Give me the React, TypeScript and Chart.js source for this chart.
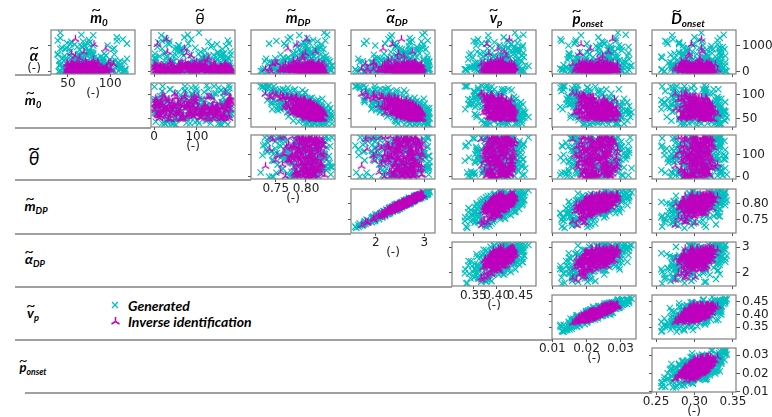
import React, { useEffect, useRef } from 'react';
import { Chart, registerables } from 'chart.js';

Chart.register(...registerables);

// ---------------- Generated samples (one entry per sample, aligned by index) ----------------
const alphaGen = [
  120, 460, 35, 780, 210, 1050, 60, 340, 15, 590,
  880, 150, 260, 410, 25, 690, 90, 1220, 330, 170,
  45, 520, 950, 230, 110, 380, 650, 20, 1400, 290,
  75, 820, 180, 560, 8, 310, 140, 720, 430, 50,
  990, 270, 30, 600, 155, 40, 1130, 360, 85, 480,
  240, 10, 700, 130, 370, 920, 55, 190, 540, 1300,
  320, 95, 860, 200, 12, 440, 620, 70, 1010, 250,
  165, 400, 28, 760, 510, 100, 280, 1180, 5, 350,
  640, 220, 1080, 38, 300, 145, 840, 18, 470, 1500,
  60, 580, 125, 390, 1250, 20, 500, 230, 680, 105,
  210, 690, 80, 330, 1100, 150, 460, 30, 860, 250,
  120, 540, 20, 380, 740, 95, 1020, 280, 55, 430,
  610, 170, 300, 12, 890, 65, 520, 240, 1160, 140,
  360, 40, 780, 220, 105, 1320, 15, 410, 670, 190,
  70, 950, 260, 500, 10, 340, 820, 130, 590, 45,
  1060, 225, 85, 450, 700, 35, 160, 920, 300, 560,
  115, 25, 640, 390, 1200, 50, 270, 760, 180, 480,
  900, 140, 330, 60, 1010, 230, 420, 8, 620, 290,
  175, 1420, 90, 530, 350, 710, 22, 440, 150, 1080,
  365, 75, 560, 205, 880, 30, 650, 245, 1150, 125,
];
const m0Gen = [
  85, 53, 102, 53, 107, 58, 58, 84, 84, 79,
  52, 99, 41, 112, 50, 77, 118, 75, 58, 55,
  87, 85, 61, 65, 95, 68, 62, 89, 80, 41,
  70, 75, 68, 68, 95, 94, 43, 67, 106, 58,
  66, 102, 118, 53, 64, 75, 76, 70, 57, 61,
  64, 78, 93, 52, 117, 43, 94, 62, 81, 41,
  66, 118, 47, 98, 54, 60, 73, 89, 80, 74,
  65, 103, 80, 78, 65, 51, 49, 108, 85, 110,
  38, 54, 74, 79, 68, 81, 64, 40, 91, 41,
  103, 89, 63, 72, 115, 53, 120, 72, 38, 112,
  80, 63, 77, 104, 49, 61, 100, 47, 103, 53,
  75, 92, 42, 72, 76, 52, 70, 94, 104, 45,
  46, 92, 59, 115, 72, 77, 44, 79, 68, 97,
  66, 75, 73, 60, 65, 108, 85, 40, 105, 88,
  90, 67, 111, 47, 39, 91, 75, 114, 65, 82,
  53, 84, 64, 79, 80, 57, 112, 48, 84, 55,
  67, 116, 71, 88, 38, 86, 88, 75, 89, 60,
  105, 44, 96, 62, 97, 46, 92, 68, 95, 41,
  81, 66, 112, 66, 70, 79, 53, 80, 53, 120,
  92, 46, 61, 110, 41, 110, 80, 40, 54, 88,
];
const thetaGen = [
  12, 147, 88, 63, 171, 35, 119, 5, 98, 154,
  77, 23, 132, 166, 49, 104, 140, 28, 177, 61,
  93, 158, 8, 126, 70, 42, 179, 111, 17, 84,
  136, 55, 101, 3, 162, 74, 31, 149, 117, 46,
  168, 90, 20, 128, 59, 143, 10, 107, 81, 175,
  39, 122, 66, 153, 1, 96, 138, 52, 173, 26,
  114, 72, 160, 14, 85, 131, 44, 178, 57, 99,
  7, 145, 36, 109, 164, 68, 125, 19, 92, 156,
  51, 176, 80, 134, 24, 116, 62, 150, 3, 105,
  141, 30, 169, 47, 87, 11, 123, 75, 158, 38,
  66, 2, 158, 101, 33, 180, 89, 124, 48, 143,
  9, 112, 76, 165, 27, 137, 58, 95, 174, 41,
  121, 15, 84, 151, 62, 108, 4, 169, 36, 129,
  93, 55, 178, 20, 141, 71, 116, 46, 162, 83,
  6, 133, 99, 29, 155, 64, 118, 176, 13, 87,
  147, 39, 104, 170, 24, 78, 127, 52, 161, 110,
  17, 97, 139, 60, 172, 32, 81, 149, 0, 120,
  56, 166, 91, 11, 135, 43, 106, 179, 69, 25,
  152, 79, 37, 114, 2, 163, 49, 131, 94, 175,
  28, 102, 145, 73, 19, 157, 86, 42, 127, 167,
];
const mDPGen = [
  0.792, 0.815, 0.768, 0.803, 0.741, 0.826, 0.787, 0.809, 0.755, 0.798,
  0.821, 0.776, 0.834, 0.762, 0.806, 0.793, 0.729, 0.812, 0.784, 0.839,
  0.801, 0.749, 0.818, 0.795, 0.772, 0.828, 0.808, 0.736, 0.789, 0.816,
  0.758, 0.804, 0.831, 0.781, 0.797, 0.744, 0.823, 0.811, 0.766, 0.842,
  0.799, 0.785, 0.725, 0.813, 0.778, 0.827, 0.805, 0.752, 0.819, 0.790,
  0.836, 0.771, 0.807, 0.796, 0.739, 0.824, 0.783, 0.814, 0.763, 0.802,
  0.817, 0.747, 0.829, 0.794, 0.810, 0.775, 0.833, 0.760, 0.800, 0.822,
  0.786, 0.732, 0.812, 0.797, 0.769, 0.838, 0.804, 0.751, 0.820, 0.780,
  0.809, 0.843, 0.764, 0.791, 0.826, 0.743, 0.815, 0.798, 0.774, 0.830,
  0.757, 0.806, 0.788, 0.840, 0.770, 0.812, 0.734, 0.801, 0.825, 0.782,
  0.805, 0.778, 0.822, 0.746, 0.797, 0.833, 0.765, 0.812, 0.789, 0.818,
  0.772, 0.801, 0.827, 0.758, 0.793, 0.840, 0.783, 0.810, 0.751, 0.830,
  0.796, 0.769, 0.815, 0.737, 0.804, 0.825, 0.788, 0.761, 0.819, 0.780,
  0.838, 0.753, 0.808, 0.791, 0.829, 0.774, 0.743, 0.813, 0.798, 0.765,
  0.820, 0.786, 0.757, 0.834, 0.803, 0.777, 0.816, 0.732, 0.799, 0.826,
  0.792, 0.810, 0.769, 0.837, 0.781, 0.806, 0.749, 0.824, 0.795, 0.771,
  0.814, 0.728, 0.801, 0.790, 0.832, 0.759, 0.817, 0.784, 0.746, 0.823,
  0.799, 0.812, 0.776, 0.841, 0.767, 0.805, 0.827, 0.754, 0.793, 0.821,
  0.787, 0.835, 0.762, 0.809, 0.744, 0.818, 0.797, 0.774, 0.831, 0.739,
  0.806, 0.779, 0.828, 0.766, 0.815, 0.794, 0.758, 0.843, 0.802, 0.783,
];
const alphaDPGen = [
  2.51, 2.68, 2.24, 2.57, 1.84, 2.98, 2.27, 2.79, 1.92, 2.56,
  2.93, 2.18, 3.06, 2.19, 2.54, 2.55, 1.58, 2.75, 2.50, 3.06,
  2.44, 1.98, 2.85, 2.60, 2.13, 3.05, 2.62, 1.75, 2.33, 2.90,
  2.13, 2.69, 2.92, 2.33, 2.39, 1.77, 3.01, 2.69, 2.02, 3.07,
  2.68, 2.33, 1.60, 2.63, 2.35, 2.89, 2.69, 2.07, 2.74, 2.47,
  3.07, 2.29, 2.59, 2.56, 1.67, 2.97, 2.22, 2.81, 2.04, 2.70,
  2.69, 1.98, 3.03, 2.41, 2.79, 2.21, 3.06, 2.08, 2.41, 2.88,
  2.47, 1.73, 2.58, 2.62, 2.09, 3.11, 2.58, 1.81, 2.90, 2.43,
  2.59, 3.08, 2.19, 2.47, 2.79, 1.92, 2.84, 2.46, 2.28, 3.01,
  1.92, 2.76, 2.42, 3.10, 2.26, 2.66, 1.64, 2.65, 2.81, 2.22,
  2.71, 2.17, 2.91, 1.95, 2.39, 3.06, 2.12, 2.68, 2.54, 2.81,
  2.14, 2.71, 2.83, 1.93, 2.51, 3.07, 2.43, 2.80, 1.96, 3.06,
  2.43, 2.26, 2.74, 1.79, 2.50, 2.97, 2.43, 1.95, 2.94, 2.24,
  3.10, 2.07, 2.71, 2.34, 2.90, 2.30, 1.77, 2.80, 2.63, 2.03,
  2.68, 2.40, 1.97, 3.07, 2.70, 2.16, 2.87, 1.68, 2.51, 3.01,
  2.36, 2.75, 2.09, 2.98, 2.45, 2.54, 1.99, 2.86, 2.57, 2.24,
  2.64, 1.65, 2.63, 2.29, 3.07, 2.14, 2.85, 2.31, 1.78, 2.99,
  2.43, 2.74, 2.35, 3.09, 1.99, 2.65, 2.99, 2.01, 2.42, 2.89,
  2.46, 2.96, 2.09, 2.61, 1.91, 2.90, 2.56, 2.13, 3.08, 1.76,
  2.61, 2.40, 2.84, 2.14, 2.70, 2.58, 1.96, 3.09, 2.72, 2.32,
];
const vpGen = [
  0.422, 0.385, 0.399, 0.443, 0.353, 0.430, 0.357, 0.438, 0.384, 0.393,
  0.445, 0.370, 0.411, 0.416, 0.405, 0.420, 0.335, 0.382, 0.436, 0.449,
  0.382, 0.390, 0.455, 0.393, 0.353, 0.425, 0.435, 0.377, 0.382, 0.372,
  0.333, 0.438, 0.441, 0.417, 0.375, 0.362, 0.414, 0.457, 0.412, 0.410,
  0.416, 0.359, 0.337, 0.419, 0.440, 0.395, 0.395, 0.408, 0.436, 0.397,
  0.461, 0.395, 0.365, 0.432, 0.389, 0.407, 0.374, 0.428, 0.349, 0.446,
  0.408, 0.332, 0.449, 0.369, 0.422, 0.416, 0.396, 0.399, 0.456, 0.402,
  0.411, 0.385, 0.393, 0.358, 0.423, 0.433, 0.427, 0.351, 0.452, 0.385,
  0.377, 0.468, 0.368, 0.443, 0.398, 0.379, 0.444, 0.386, 0.339, 0.439,
  0.404, 0.371, 0.402, 0.418, 0.360, 0.459, 0.367, 0.425, 0.381, 0.425,
  0.389, 0.423, 0.431, 0.354, 0.444, 0.416, 0.405, 0.368, 0.414, 0.447,
  0.354, 0.427, 0.417, 0.416, 0.372, 0.455, 0.406, 0.390, 0.367, 0.394,
  0.454, 0.347, 0.415, 0.383, 0.380, 0.451, 0.417, 0.413, 0.427, 0.384,
  0.444, 0.383, 0.433, 0.353, 0.428, 0.415, 0.360, 0.454, 0.387, 0.430,
  0.408, 0.438, 0.360, 0.446, 0.403, 0.354, 0.444, 0.375, 0.417, 0.387,
  0.431, 0.412, 0.399, 0.408, 0.345, 0.455, 0.395, 0.425, 0.391, 0.421,
  0.389, 0.378, 0.442, 0.370, 0.422, 0.387, 0.436, 0.448, 0.344, 0.445,
  0.390, 0.423, 0.437, 0.411, 0.356, 0.379, 0.442, 0.418, 0.410, 0.377,
  0.340, 0.457, 0.411, 0.411, 0.392, 0.407, 0.384, 0.440, 0.420, 0.379,
  0.400, 0.413, 0.458, 0.361, 0.425, 0.432, 0.341, 0.442, 0.357, 0.436,
];
const ponsetGen = [
  0.0269, 0.0175, 0.0248, 0.0284, 0.0157, 0.0239, 0.0154, 0.0306, 0.0179, 0.0243,
  0.0270, 0.0188, 0.0247, 0.0210, 0.0255, 0.0249, 0.0128, 0.0169, 0.0293, 0.0292,
  0.0218, 0.0170, 0.0323, 0.0227, 0.0149, 0.0236, 0.0264, 0.0214, 0.0184, 0.0197,
  0.0130, 0.0267, 0.0319, 0.0219, 0.0182, 0.0195, 0.0232, 0.0323, 0.0200, 0.0253,
  0.0228, 0.0178, 0.0136, 0.0264, 0.0257, 0.0189, 0.0248, 0.0224, 0.0297, 0.0171,
  0.0332, 0.0244, 0.0149, 0.0238, 0.0226, 0.0237, 0.0157, 0.0296, 0.0153, 0.0285,
  0.0264, 0.0133, 0.0274, 0.0174, 0.0241, 0.0267, 0.0175, 0.0211, 0.0295, 0.0264,
  0.0206, 0.0209, 0.0231, 0.0181, 0.0253, 0.0291, 0.0238, 0.0127, 0.0319, 0.0173,
  0.0191, 0.0328, 0.0201, 0.0274, 0.0256, 0.0160, 0.0262, 0.0210, 0.0144, 0.0292,
  0.0191, 0.0148, 0.0268, 0.0252, 0.0124, 0.0304, 0.0175, 0.0220, 0.0209, 0.0295,
  0.0222, 0.0238, 0.0302, 0.0163, 0.0253, 0.0257, 0.0198, 0.0177, 0.0273, 0.0288,
  0.0123, 0.0285, 0.0218, 0.0252, 0.0203, 0.0302, 0.0270, 0.0173, 0.0175, 0.0230,
  0.0320, 0.0142, 0.0205, 0.0202, 0.0207, 0.0325, 0.0258, 0.0212, 0.0245, 0.0233,
  0.0313, 0.0162, 0.0235, 0.0172, 0.0297, 0.0235, 0.0163, 0.0290, 0.0208, 0.0220,
  0.0253, 0.0303, 0.0133, 0.0267, 0.0265, 0.0173, 0.0303, 0.0158, 0.0268, 0.0208,
  0.0252, 0.0200, 0.0248, 0.0273, 0.0148, 0.0302, 0.0172, 0.0272, 0.0215, 0.0285,
  0.0182, 0.0203, 0.0260, 0.0170, 0.0287, 0.0228, 0.0280, 0.0281, 0.0157, 0.0325,
  0.0233, 0.0228, 0.0252, 0.0258, 0.0147, 0.0225, 0.0310, 0.0210, 0.0267, 0.0192,
  0.0140, 0.0315, 0.0258, 0.0198, 0.0207, 0.0277, 0.0153, 0.0297, 0.0213, 0.0165,
  0.0270, 0.0252, 0.0292, 0.0165, 0.0292, 0.0243, 0.0151, 0.0310, 0.0168, 0.0280,
];
const DonsetGen = [
  0.303, 0.305, 0.313, 0.297, 0.272, 0.330, 0.293, 0.322, 0.261, 0.317,
  0.331, 0.270, 0.293, 0.325, 0.308, 0.316, 0.258, 0.306, 0.333, 0.297,
  0.302, 0.294, 0.337, 0.271, 0.296, 0.295, 0.335, 0.328, 0.271, 0.287,
  0.257, 0.290, 0.338, 0.314, 0.316, 0.272, 0.297, 0.333, 0.313, 0.335,
  0.322, 0.276, 0.287, 0.294, 0.315, 0.306, 0.280, 0.288, 0.332, 0.316,
  0.340, 0.281, 0.274, 0.324, 0.269, 0.306, 0.291, 0.306, 0.258, 0.333,
  0.305, 0.277, 0.339, 0.312, 0.292, 0.284, 0.294, 0.315, 0.311, 0.311,
  0.320, 0.279, 0.314, 0.280, 0.330, 0.325, 0.281, 0.262, 0.340, 0.291,
  0.286, 0.323, 0.265, 0.328, 0.291, 0.298, 0.316, 0.282, 0.298, 0.309,
  0.320, 0.257, 0.298, 0.318, 0.272, 0.342, 0.313, 0.268, 0.303, 0.315,
  0.316, 0.285, 0.335, 0.290, 0.280, 0.331, 0.278, 0.307, 0.324, 0.295,
  0.276, 0.332, 0.329, 0.290, 0.285, 0.330, 0.285, 0.294, 0.275, 0.323,
  0.340, 0.280, 0.326, 0.275, 0.321, 0.322, 0.286, 0.333, 0.310, 0.276,
  0.340, 0.293, 0.290, 0.304, 0.333, 0.300, 0.261, 0.326, 0.316, 0.288,
  0.330, 0.333, 0.284, 0.304, 0.333, 0.266, 0.310, 0.296, 0.334, 0.276,
  0.280, 0.327, 0.293, 0.331, 0.280, 0.340, 0.311, 0.291, 0.300, 0.312,
  0.295, 0.315, 0.334, 0.315, 0.330, 0.274, 0.298, 0.333, 0.286, 0.323,
  0.286, 0.322, 0.330, 0.299, 0.298, 0.331, 0.297, 0.297, 0.284, 0.317,
  0.286, 0.338, 0.331, 0.273, 0.306, 0.323, 0.292, 0.311, 0.328, 0.299,
  0.335, 0.270, 0.312, 0.314, 0.334, 0.287, 0.269, 0.332, 0.264, 0.328,
];

// ---------------- Inverse identification samples ----------------
const alphaInv = [
  45, 120, 210, 15, 80, 330, 160, 25, 95, 260,
  140, 8, 190, 70, 250, 35, 110, 420, 55, 175,
  20, 230, 90, 150, 5, 290, 65, 185, 30, 125,
  270, 50, 105, 12, 200, 75, 360, 40, 135, 225,
  60, 180, 28, 310, 100, 18, 155, 240, 85, 520,
  130, 42, 215, 95, 3, 170, 280, 58, 115, 195,
  22, 145, 250, 68, 190, 10, 100, 320, 48, 165,
  205, 75, 38, 135, 880, 27, 230, 88, 160, 14,
  110, 300, 52, 185, 35, 150, 1250, 78, 220, 62,
  168, 24, 95, 275, 130, 700, 45, 200, 16, 140,
  85, 30, 190, 140, 12, 260, 65, 110, 45, 225,
  160, 20, 95, 305, 50, 135, 7, 240, 75, 180,
  115, 40, 270, 15, 200, 90, 150, 350, 28, 125,
  60, 215, 100, 4, 170, 290, 35, 145, 80, 460,
  10, 120, 235, 55, 185, 25, 130, 70, 320, 155,
  205, 48, 105, 265, 18, 160, 600, 38, 90, 230,
  140, 62, 11, 195, 115, 380, 32, 175, 82, 250,
  52, 210, 128, 26, 300, 98, 6, 165, 1050, 118,
  245, 72, 150, 36, 208, 14, 135, 280, 58, 190,
  92, 330, 24, 170, 64, 222, 108, 42, 155, 760,
];
const m0Inv = [
  76, 64, 76, 67, 92, 49, 64, 90, 64, 63,
  57, 82, 96, 60, 55, 79, 80, 71, 76, 50,
  86, 53, 74, 72, 57, 104, 75, 71, 49, 95,
  64, 62, 64, 86, 60, 78, 85, 60, 71, 79,
  100, 56, 89, 54, 83, 76, 66, 71, 65, 64,
  51, 93, 71, 102, 58, 66, 78, 57, 73, 83,
  76, 69, 74, 54, 83, 58, 50, 98, 77, 69,
  83, 71, 61, 58, 95, 59, 80, 63, 74, 91,
  96, 50, 80, 83, 62, 72, 59, 86, 60, 95,
  78, 52, 62, 68, 96, 54, 67, 79, 55, 69,
  75, 65, 75, 68, 74, 49, 89, 59, 89, 75,
  74, 71, 60, 54, 95, 66, 68, 60, 68, 81,
  56, 92, 56, 64, 77, 80, 65, 100, 51, 71,
  61, 61, 92, 58, 81, 62, 79, 68, 53, 80,
  77, 60, 58, 96, 68, 51, 85, 49, 86, 58,
  78, 67, 62, 81, 95, 72, 59, 61, 95, 55,
  60, 85, 62, 87, 73, 56, 69, 66, 69, 76,
  75, 78, 69, 51, 75, 91, 85, 50, 81, 52,
  66, 59, 70, 77, 80, 50, 73, 81, 65, 79,
  67, 72, 60, 90, 51, 78, 50, 81, 65, 69,
];
const thetaInv = [
  45, 132, 9, 170, 88, 61, 115, 27, 152, 96,
  174, 18, 103, 56, 140, 80, 2, 125, 67, 159,
  33, 108, 146, 72, 13, 166, 50, 93, 129, 24,
  118, 84, 41, 178, 6, 137, 99, 58, 161, 76,
  21, 155, 64, 112, 180, 37, 90, 143, 11, 128,
  69, 4, 135, 48, 163, 82, 120, 16, 101, 173,
  148, 31, 79, 126, 57, 8, 168, 94, 42, 113,
  86, 139, 22, 164, 71, 110, 1, 52, 157, 35,
  124, 65, 176, 15, 98, 144, 29, 172, 83, 54,
  7, 161, 107, 43, 133, 76, 150, 19, 92, 178,
  103, 58, 171, 14, 126, 39, 92, 149, 5, 77,
  160, 30, 115, 66, 179, 21, 137, 84, 45, 154,
  10, 98, 142, 53, 168, 35, 121, 73, 176, 0,
  88, 131, 19, 163, 47, 106, 62, 145, 26, 117,
  173, 41, 80, 128, 3, 158, 95, 34, 140, 68,
  12, 111, 150, 57, 177, 24, 87, 134, 49, 165,
  96, 6, 143, 74, 119, 38, 170, 61, 101, 16,
  136, 79, 28, 155, 91, 175, 43, 123, 8, 107,
  60, 147, 23, 89, 166, 52, 118, 2, 132, 71,
  153, 36, 100, 178, 13, 83, 139, 55, 112, 31,
];
const mDPInv = [
  0.801, 0.788, 0.812, 0.795, 0.776, 0.820, 0.806, 0.791, 0.815, 0.783,
  0.809, 0.797, 0.762, 0.824, 0.800, 0.786, 0.813, 0.779, 0.804, 0.827,
  0.793, 0.818, 0.771, 0.807, 0.790, 0.745, 0.811, 0.799, 0.822, 0.784,
  0.803, 0.829, 0.780, 0.796, 0.814, 0.768, 0.808, 0.792, 0.817, 0.789,
  0.758, 0.805, 0.798, 0.821, 0.785, 0.810, 0.774, 0.802, 0.826, 0.794,
  0.816, 0.782, 0.806, 0.733, 0.799, 0.819, 0.787, 0.811, 0.765, 0.804,
  0.797, 0.823, 0.778, 0.808, 0.792, 0.831, 0.800, 0.752, 0.813, 0.789,
  0.806, 0.781, 0.818, 0.795, 0.770, 0.810, 0.802, 0.826, 0.785, 0.798,
  0.740, 0.812, 0.793, 0.807, 0.777, 0.820, 0.801, 0.788, 0.815, 0.761,
  0.803, 0.828, 0.790, 0.809, 0.775, 0.799, 0.817, 0.784, 0.805, 0.822,
  0.808, 0.793, 0.817, 0.781, 0.799, 0.826, 0.787, 0.812, 0.796, 0.771,
  0.804, 0.819, 0.790, 0.811, 0.763, 0.801, 0.828, 0.785, 0.807, 0.794,
  0.815, 0.778, 0.802, 0.823, 0.789, 0.810, 0.797, 0.750, 0.814, 0.805,
  0.791, 0.821, 0.783, 0.806, 0.798, 0.830, 0.775, 0.813, 0.800, 0.786,
  0.818, 0.796, 0.809, 0.768, 0.803, 0.825, 0.792, 0.811, 0.780, 0.816,
  0.799, 0.787, 0.822, 0.805, 0.742, 0.812, 0.795, 0.819, 0.784, 0.807,
  0.828, 0.790, 0.801, 0.773, 0.815, 0.797, 0.810, 0.788, 0.824, 0.802,
  0.779, 0.813, 0.794, 0.820, 0.806, 0.757, 0.799, 0.817, 0.785, 0.809,
  0.826, 0.792, 0.811, 0.783, 0.804, 0.818, 0.796, 0.766, 0.814, 0.800,
  0.789, 0.821, 0.807, 0.777, 0.812, 0.795, 0.829, 0.803, 0.786, 0.816,
];
const alphaDPInv = [
  2.63, 2.34, 2.75, 2.42, 2.32, 2.79, 2.72, 2.45, 2.69, 2.38,
  2.65, 2.58, 2.01, 2.90, 2.48, 2.47, 2.78, 2.26, 2.67, 2.86,
  2.42, 2.87, 2.21, 2.57, 2.49, 1.79, 2.73, 2.54, 2.91, 2.28,
  2.68, 2.92, 2.35, 2.45, 2.76, 2.06, 2.71, 2.53, 2.74, 2.44,
  2.07, 2.59, 2.63, 2.82, 2.30, 2.73, 2.27, 2.53, 2.95, 2.45,
  2.80, 2.39, 2.56, 1.71, 2.60, 2.77, 2.42, 2.64, 2.18, 2.60,
  2.46, 2.92, 2.24, 2.73, 2.38, 2.94, 2.63, 1.95, 2.69, 2.50,
  2.67, 2.26, 2.74, 2.57, 2.15, 2.75, 2.55, 2.94, 2.43, 2.47,
  1.82, 2.76, 2.53, 2.63, 2.19, 2.88, 2.53, 2.42, 2.74, 2.12,
  2.55, 2.95, 2.39, 2.75, 2.27, 2.47, 2.85, 2.32, 2.66, 2.80,
  2.72, 2.41, 2.82, 2.38, 2.50, 2.93, 2.32, 2.78, 2.53, 2.14,
  2.59, 2.88, 2.47, 2.63, 2.12, 2.60, 2.89, 2.44, 2.64, 2.41,
  2.80, 2.24, 2.66, 2.81, 2.43, 2.75, 2.44, 1.96, 2.74, 2.66,
  2.40, 2.91, 2.39, 2.58, 2.62, 2.94, 2.27, 2.67, 2.57, 2.33,
  2.83, 2.47, 2.75, 2.12, 2.65, 2.82, 2.52, 2.72, 2.24, 2.82,
  2.61, 2.36, 2.88, 2.56, 1.84, 2.68, 2.58, 2.77, 2.38, 2.71,
  2.97, 2.35, 2.62, 2.26, 2.73, 2.59, 2.64, 2.42, 2.84, 2.57,
  2.34, 2.76, 2.43, 2.89, 2.67, 1.95, 2.48, 2.84, 2.34, 2.75,
  2.85, 2.49, 2.77, 2.29, 2.66, 2.77, 2.56, 2.18, 2.67, 2.58,
  2.48, 2.80, 2.67, 2.20, 2.79, 2.47, 2.97, 2.55, 2.42, 2.76,
];
const vpInv = [
  0.419, 0.379, 0.418, 0.425, 0.384, 0.403, 0.428, 0.374, 0.424, 0.410,
  0.400, 0.429, 0.379, 0.433, 0.385, 0.405, 0.396, 0.413, 0.406, 0.438,
  0.405, 0.393, 0.399, 0.431, 0.387, 0.367, 0.415, 0.376, 0.430, 0.413,
  0.392, 0.429, 0.384, 0.418, 0.392, 0.406, 0.412, 0.394, 0.439, 0.380,
  0.389, 0.397, 0.421, 0.414, 0.421, 0.386, 0.394, 0.419, 0.408, 0.401,
  0.431, 0.378, 0.417, 0.368, 0.396, 0.437, 0.407, 0.390, 0.398, 0.402,
  0.423, 0.408, 0.399, 0.391, 0.411, 0.429, 0.391, 0.388, 0.432, 0.375,
  0.407, 0.417, 0.409, 0.385, 0.403, 0.421, 0.396, 0.434, 0.393, 0.431,
  0.373, 0.399, 0.419, 0.403, 0.371, 0.426, 0.427, 0.389, 0.399, 0.404,
  0.413, 0.404, 0.413, 0.427, 0.388, 0.383, 0.422, 0.384, 0.433, 0.411,
  0.423, 0.384, 0.422, 0.410, 0.383, 0.432, 0.392, 0.433, 0.392, 0.393,
  0.399, 0.433, 0.411, 0.389, 0.392, 0.426, 0.409, 0.399, 0.433, 0.382,
  0.411, 0.410, 0.394, 0.429, 0.421, 0.395, 0.409, 0.373, 0.428, 0.388,
  0.419, 0.408, 0.381, 0.417, 0.403, 0.437, 0.382, 0.438, 0.387, 0.408,
  0.410, 0.425, 0.395, 0.390, 0.423, 0.399, 0.409, 0.414, 0.381, 0.434,
  0.417, 0.378, 0.425, 0.399, 0.380, 0.408, 0.420, 0.394, 0.410, 0.414,
  0.434, 0.392, 0.429, 0.376, 0.418, 0.387, 0.425, 0.396, 0.408, 0.427,
  0.409, 0.395, 0.409, 0.432, 0.398, 0.390, 0.399, 0.435, 0.379, 0.413,
  0.407, 0.414, 0.422, 0.385, 0.424, 0.413, 0.383, 0.404, 0.419, 0.393,
  0.407, 0.431, 0.392, 0.396, 0.428, 0.396, 0.414, 0.429, 0.382, 0.416,
];
const ponsetInv = [
  0.0262, 0.0170, 0.0271, 0.0254, 0.0210, 0.0201, 0.0272, 0.0199, 0.0248, 0.0250,
  0.0238, 0.0248, 0.0191, 0.0290, 0.0186, 0.0252, 0.0197, 0.0239, 0.0241, 0.0277,
  0.0207, 0.0227, 0.0222, 0.0259, 0.0224, 0.0160, 0.0261, 0.0170, 0.0278, 0.0219,
  0.0219, 0.0288, 0.0176, 0.0253, 0.0201, 0.0211, 0.0262, 0.0219, 0.0271, 0.0194,
  0.0191, 0.0238, 0.0237, 0.0257, 0.0257, 0.0205, 0.0185, 0.0269, 0.0229, 0.0233,
  0.0256, 0.0204, 0.0239, 0.0171, 0.0232, 0.0288, 0.0210, 0.0216, 0.0205, 0.0248,
  0.0263, 0.0216, 0.0232, 0.0202, 0.0258, 0.0258, 0.0214, 0.0179, 0.0289, 0.0181,
  0.0224, 0.0260, 0.0216, 0.0217, 0.0212, 0.0262, 0.0231, 0.0273, 0.0193, 0.0282,
  0.0190, 0.0195, 0.0260, 0.0244, 0.0166, 0.0248, 0.0276, 0.0206, 0.0209, 0.0207,
  0.0263, 0.0237, 0.0228, 0.0270, 0.0216, 0.0180, 0.0250, 0.0216, 0.0257, 0.0244,
  0.0268, 0.0178, 0.0277, 0.0227, 0.0210, 0.0251, 0.0216, 0.0279, 0.0188, 0.0232,
  0.0211, 0.0261, 0.0254, 0.0213, 0.0186, 0.0269, 0.0217, 0.0238, 0.0287, 0.0185,
  0.0215, 0.0250, 0.0217, 0.0258, 0.0274, 0.0196, 0.0238, 0.0187, 0.0262, 0.0215,
  0.0260, 0.0213, 0.0194, 0.0265, 0.0213, 0.0291, 0.0211, 0.0266, 0.0195, 0.0247,
  0.0242, 0.0243, 0.0234, 0.0195, 0.0269, 0.0234, 0.0211, 0.0246, 0.0178, 0.0284,
  0.0235, 0.0201, 0.0266, 0.0198, 0.0196, 0.0254, 0.0247, 0.0223, 0.0220, 0.0253,
  0.0269, 0.0224, 0.0246, 0.0185, 0.0265, 0.0189, 0.0273, 0.0199, 0.0253, 0.0262,
  0.0247, 0.0205, 0.0219, 0.0281, 0.0236, 0.0191, 0.0222, 0.0291, 0.0184, 0.0222,
  0.0248, 0.0232, 0.0259, 0.0216, 0.0245, 0.0251, 0.0188, 0.0209, 0.0266, 0.0201,
  0.0222, 0.0278, 0.0220, 0.0192, 0.0277, 0.0231, 0.0238, 0.0255, 0.0198, 0.0264,
];
const DonsetInv = [
  0.303, 0.297, 0.319, 0.295, 0.305, 0.310, 0.310, 0.283, 0.318, 0.306,
  0.311, 0.295, 0.293, 0.330, 0.282, 0.323, 0.298, 0.289, 0.307, 0.308,
  0.310, 0.297, 0.312, 0.300, 0.299, 0.289, 0.315, 0.276, 0.325, 0.315,
  0.286, 0.321, 0.297, 0.303, 0.306, 0.287, 0.319, 0.302, 0.299, 0.301,
  0.287, 0.315, 0.293, 0.316, 0.303, 0.310, 0.289, 0.322, 0.288, 0.307,
  0.322, 0.289, 0.310, 0.275, 0.317, 0.317, 0.305, 0.286, 0.302, 0.299,
  0.311, 0.311, 0.293, 0.304, 0.312, 0.297, 0.314, 0.290, 0.316, 0.281,
  0.308, 0.303, 0.302, 0.287, 0.309, 0.317, 0.287, 0.324, 0.297, 0.315,
  0.301, 0.286, 0.314, 0.296, 0.297, 0.314, 0.309, 0.311, 0.294, 0.300,
  0.300, 0.314, 0.296, 0.327, 0.295, 0.293, 0.299, 0.310, 0.310, 0.312,
  0.306, 0.299, 0.321, 0.291, 0.306, 0.322, 0.295, 0.304, 0.296, 0.314,
  0.312, 0.303, 0.313, 0.285, 0.298, 0.316, 0.311, 0.299, 0.310, 0.304,
  0.297, 0.316, 0.287, 0.321, 0.301, 0.298, 0.318, 0.283, 0.315, 0.290,
  0.318, 0.295, 0.303, 0.302, 0.314, 0.316, 0.299, 0.323, 0.283, 0.307,
  0.319, 0.293, 0.308, 0.306, 0.309, 0.312, 0.286, 0.309, 0.301, 0.311,
  0.314, 0.281, 0.317, 0.304, 0.288, 0.316, 0.293, 0.315, 0.298, 0.315,
  0.304, 0.311, 0.301, 0.302, 0.316, 0.283, 0.323, 0.309, 0.297, 0.317,
  0.304, 0.305, 0.313, 0.308, 0.306, 0.279, 0.317, 0.318, 0.296, 0.287,
  0.319, 0.298, 0.317, 0.289, 0.321, 0.294, 0.298, 0.293, 0.323, 0.297,
  0.308, 0.304, 0.312, 0.283, 0.319, 0.292, 0.319, 0.305, 0.303, 0.310,
];

// ---------------- tick values ----------------
const ticksAlpha = [0, 1000];
const ticksM0 = [50, 100];
const ticksTheta = [0, 100];
const ticksMDP = [0.75, 0.8];
const ticksAlphaDP = [2, 3];
const ticksVp = [0.35, 0.4, 0.45];
const ticksPonset = [0.01, 0.02, 0.03];
const ticksDonset = [0.25, 0.3, 0.35];

const GEN: Record<string, number[]> = {
  alpha: alphaGen, m0: m0Gen, theta: thetaGen, mDP: mDPGen,
  alphaDP: alphaDPGen, vp: vpGen, ponset: ponsetGen, Donset: DonsetGen,
};
const INV: Record<string, number[]> = {
  alpha: alphaInv, m0: m0Inv, theta: thetaInv, mDP: mDPInv,
  alphaDP: alphaDPInv, vp: vpInv, ponset: ponsetInv, Donset: DonsetInv,
};
const TICKS: Record<string, number[]> = {
  alpha: ticksAlpha, m0: ticksM0, theta: ticksTheta, mDP: ticksMDP,
  alphaDP: ticksAlphaDP, vp: ticksVp, ponset: ticksPonset, Donset: ticksDonset,
};
const DECIMALS: Record<string, number> = {
  alpha: 0, m0: 0, theta: 0, mDP: 2, alphaDP: 0, vp: 2, ponset: 2, Donset: 2,
};
const X_RANGE: Record<string, number[]> = {
  m0: [30, 129.5], theta: [-7, 189], mDP: [0.709, 0.848], alphaDP: [1.49, 3.22],
  vp: [0.3045, 0.484], ponset: [0.0099, 0.0345], Donset: [0.2448, 0.354],
};
const Y_RANGE: Record<string, number[]> = {
  alpha: [-88, 1604], m0: [33, 125], theta: [-9, 187], mDP: [0.709, 0.847],
  alphaDP: [1.48, 3.2], vp: [0.304, 0.476], ponset: [0.0099, 0.0339],
};

const COL_KEYS = ['m0', 'theta', 'mDP', 'alphaDP', 'vp', 'ponset', 'Donset'];
const ROW_KEYS = ['alpha', 'm0', 'theta', 'mDP', 'alphaDP', 'vp', 'ponset'];

// ---------------- layout ----------------
const COL_LEFT = [51, 151, 251, 351, 452, 552, 652];
const ROW_TOP = [30, 83, 135, 189, 242, 295, 348];
const PANEL_W = 84;
const PANEL_H = 44;
const PAD_L = 20;
const PAD_T = 10;
const PAD_R = 40;
const PAD_B = 32;
const CW = PAD_L + PANEL_W + PAD_R;
const CH = PAD_T + PANEL_H + PAD_B;

const CYAN = '#00bfbf';
const MAGENTA = '#bf00bf';
const LABEL_FONT = 'Lato, "Open Sans", "DejaVu Sans", sans-serif';

let triCache: HTMLCanvasElement | null = null;
function getTri() {
  if (triCache) return triCache;
  const c = document.createElement('canvas');
  c.width = 11;
  c.height = 11;
  const g = c.getContext('2d') as CanvasRenderingContext2D;
  g.strokeStyle = MAGENTA;
  g.lineWidth = 1.3;
  const cx = 5.5, cy = 5.5, L = 4.3;
  g.beginPath();
  g.moveTo(cx, cy); g.lineTo(cx, cy - L);
  g.moveTo(cx, cy); g.lineTo(cx - L * 0.866, cy + L * 0.5);
  g.moveTo(cx, cy); g.lineTo(cx + L * 0.866, cy + L * 0.5);
  g.stroke();
  triCache = c;
  return c;
}

const framePlugin = {
  id: 'frame',
  afterDatasetsDraw(chart: any) {
    const { ctx, chartArea: a } = chart;
    ctx.save();
    ctx.strokeStyle = '#808080';
    ctx.lineWidth = 1.2;
    ctx.strokeRect(a.left, a.top, a.right - a.left, a.bottom - a.top);
    ctx.restore();
  },
};

function Panel({ r, c }: { r: number; c: number }) {
  const ref = useRef<HTMLCanvasElement>(null);
  useEffect(() => {
    const canvas = ref.current;
    if (!canvas) return;
    const xk = COL_KEYS[c];
    const yk = ROW_KEYS[r];
    const diag = r === c;
    const last = c === 6;
    const pts = (src: Record<string, number[]>) => src[xk].map((v, k) => ({ x: v, y: src[yk][k] }));
    const fixTicks = (key: string) => (s: any) => { s.ticks = TICKS[key].map((v) => ({ value: v })); };
    const fmt = (key: string) => (v: any) => Number(v).toFixed(DECIMALS[key]);
    const tickFont = { family: 'DejaVu Sans', size: 12 };
    const grid = { drawOnChartArea: false, drawTicks: true, tickLength: 3, color: '#555', lineWidth: 1 };
    const scales: any = {
      x: {
        type: 'linear', position: 'bottom', bounds: 'data',
        min: X_RANGE[xk][0], max: X_RANGE[xk][1],
        afterBuildTicks: fixTicks(xk),
        afterFit: (s: any) => { s.height = PAD_B; },
        grid, border: { display: false },
        ticks: { display: diag, autoSkip: false, maxRotation: 0, minRotation: 0, padding: 0, font: tickFont, color: '#222', callback: fmt(xk) },
        title: { display: diag, text: '(-)', font: tickFont, color: '#222', padding: { top: 0, bottom: 5 } },
      },
      y: {
        type: 'linear', position: 'left', bounds: 'data',
        min: Y_RANGE[yk][0], max: Y_RANGE[yk][1],
        afterBuildTicks: fixTicks(yk),
        afterFit: (s: any) => { s.width = PAD_L; },
        grid, border: { display: false },
        ticks: { display: false, autoSkip: false },
      },
    };
    if (last) {
      scales.yr = {
        type: 'linear', position: 'right', bounds: 'data',
        min: Y_RANGE[yk][0], max: Y_RANGE[yk][1],
        afterBuildTicks: fixTicks(yk),
        afterFit: (s: any) => { s.width = PAD_R; },
        grid: { ...grid, tickLength: 4 }, border: { display: false },
        ticks: { display: true, autoSkip: false, padding: 2, font: tickFont, color: '#222', callback: fmt(yk) },
      };
    }
    const chart = new Chart(canvas, {
      type: 'scatter',
      data: {
        datasets: [
          { label: 'Inverse identification', data: pts(INV), pointStyle: getTri(), pointRadius: 4, borderColor: MAGENTA, backgroundColor: MAGENTA, clip: 0 } as any,
          { label: 'Generated', data: pts(GEN), pointStyle: 'crossRot', pointRadius: 4.4, borderWidth: 1.15, borderColor: CYAN, backgroundColor: CYAN, clip: 0 } as any,
        ],
      },
      options: {
        animation: false,
        responsive: false,
        devicePixelRatio: 1,
        events: [],
        layout: { padding: { top: PAD_T, right: last ? 0 : PAD_R, bottom: 0, left: 0 } },
        plugins: { legend: { display: false }, tooltip: { enabled: false } },
        scales,
      } as any,
      plugins: [framePlugin],
    });
    return () => chart.destroy();
  }, [r, c]);
  return (
    <canvas
      ref={ref}
      width={CW}
      height={CH}
      style={{ position: 'absolute', left: COL_LEFT[c] - PAD_L, top: ROW_TOP[r] - PAD_T, width: CW, height: CH }}
    />
  );
}

function TildeVar({ base, sub, size, x, y, bold = true }: { base: string; sub?: string; size: number; x: number; y: number; bold?: boolean }) {
  return (
    <div
      style={{
        position: 'absolute', left: x, top: y, transform: 'translate(-50%, -50%)',
        fontFamily: LABEL_FONT, fontSize: size, fontWeight: bold ? 700 : 400, fontStyle: 'italic',
        lineHeight: 1, whiteSpace: 'nowrap', color: '#000',
      }}
    >
      <span style={{ position: 'relative', display: 'inline-block' }}>
        <span
          style={{
            position: 'absolute', left: 0, right: 0, top: '-0.5em', textAlign: 'center',
            fontStyle: 'normal', fontWeight: 400, fontSize: '0.9em', transform: 'scaleX(1.3)',
          }}
        >~</span>
        {base}
      </span>
      {sub ? <span style={{ fontSize: '0.66em', position: 'relative', top: '0.3em' }}>{sub}</span> : null}
    </div>
  );
}

const TITLE_X = [99, 200, 298, 397, 496, 588, 688];

export default function App() {
  const panels: any[] = [];
  for (let r = 0; r < 7; r++) {
    for (let c = r; c < 7; c++) panels.push(<Panel key={`${r}-${c}`} r={r} c={c} />);
  }
  const lines = ROW_TOP.map((t, i) => {
    const x0 = i === 6 ? 25 : 15;
    return (
      <div key={`l${i}`} style={{ position: 'absolute', left: x0, top: t + PANEL_H, width: COL_LEFT[i] - x0, height: 2, background: '#a0a0a0' }} />
    );
  });
  return (
    <div style={{ position: 'absolute', left: 0, top: 0, width: 772, height: 417, background: '#fff', overflow: 'hidden' }}>
      {lines}
      {panels}
      <TildeVar base="m" sub="0" size={15} x={TITLE_X[0]} y={17} />
      <TildeVar base="θ" size={16} x={TITLE_X[1]} y={18} bold={false} />
      <TildeVar base="m" sub="DP" size={15} x={TITLE_X[2]} y={17} />
      <TildeVar base="α" sub="DP" size={15} x={TITLE_X[3]} y={17} />
      <TildeVar base="v" sub="p" size={15} x={TITLE_X[4]} y={17} />
      <TildeVar base="p" sub="onset" size={15} x={TITLE_X[5]} y={18} />
      <TildeVar base="D" sub="onset" size={15} x={TITLE_X[6]} y={18} />

      <TildeVar base="α" size={15} x={34} y={55} />
      <div style={{ position: 'absolute', left: 34, top: 68, transform: 'translate(-50%, -50%)', fontFamily: 'DejaVu Sans', fontSize: 12, color: '#222' }}>(-)</div>
      <TildeVar base="m" sub="0" size={14} x={33} y={100} />
      <TildeVar base="θ" size={19} x={34} y={157} bold={false} />
      <TildeVar base="m" sub="DP" size={14} x={36} y={206} />
      <TildeVar base="α" sub="DP" size={14} x={35} y={259} />
      <TildeVar base="v" sub="p" size={14} x={33} y={313} />
      <TildeVar base="p" sub="onset" size={13} x={33} y={367} />

      <svg style={{ position: 'absolute', left: 111, top: 301 }} width={8} height={8}>
        <line x1={1} y1={1} x2={7} y2={7} stroke={CYAN} strokeWidth={1.2} />
        <line x1={1} y1={7} x2={7} y2={1} stroke={CYAN} strokeWidth={1.2} />
      </svg>
      <svg style={{ position: 'absolute', left: 111, top: 317 }} width={9} height={9}>
        <line x1={4.5} y1={4.5} x2={4.5} y2={0} stroke={MAGENTA} strokeWidth={1.5} />
        <line x1={4.5} y1={4.5} x2={0.5} y2={7} stroke={MAGENTA} strokeWidth={1.5} />
        <line x1={4.5} y1={4.5} x2={8.5} y2={7} stroke={MAGENTA} strokeWidth={1.5} />
      </svg>
      <div style={{ position: 'absolute', left: 128, top: 305, transform: 'translateY(-50%)', fontFamily: LABEL_FONT, fontWeight: 700, fontStyle: 'italic', fontSize: 14, whiteSpace: 'nowrap' }}>Generated</div>
      <div style={{ position: 'absolute', left: 128, top: 321, transform: 'translateY(-50%)', fontFamily: LABEL_FONT, fontWeight: 700, fontStyle: 'italic', fontSize: 14, whiteSpace: 'nowrap' }}>Inverse identification</div>
    </div>
  );
}
